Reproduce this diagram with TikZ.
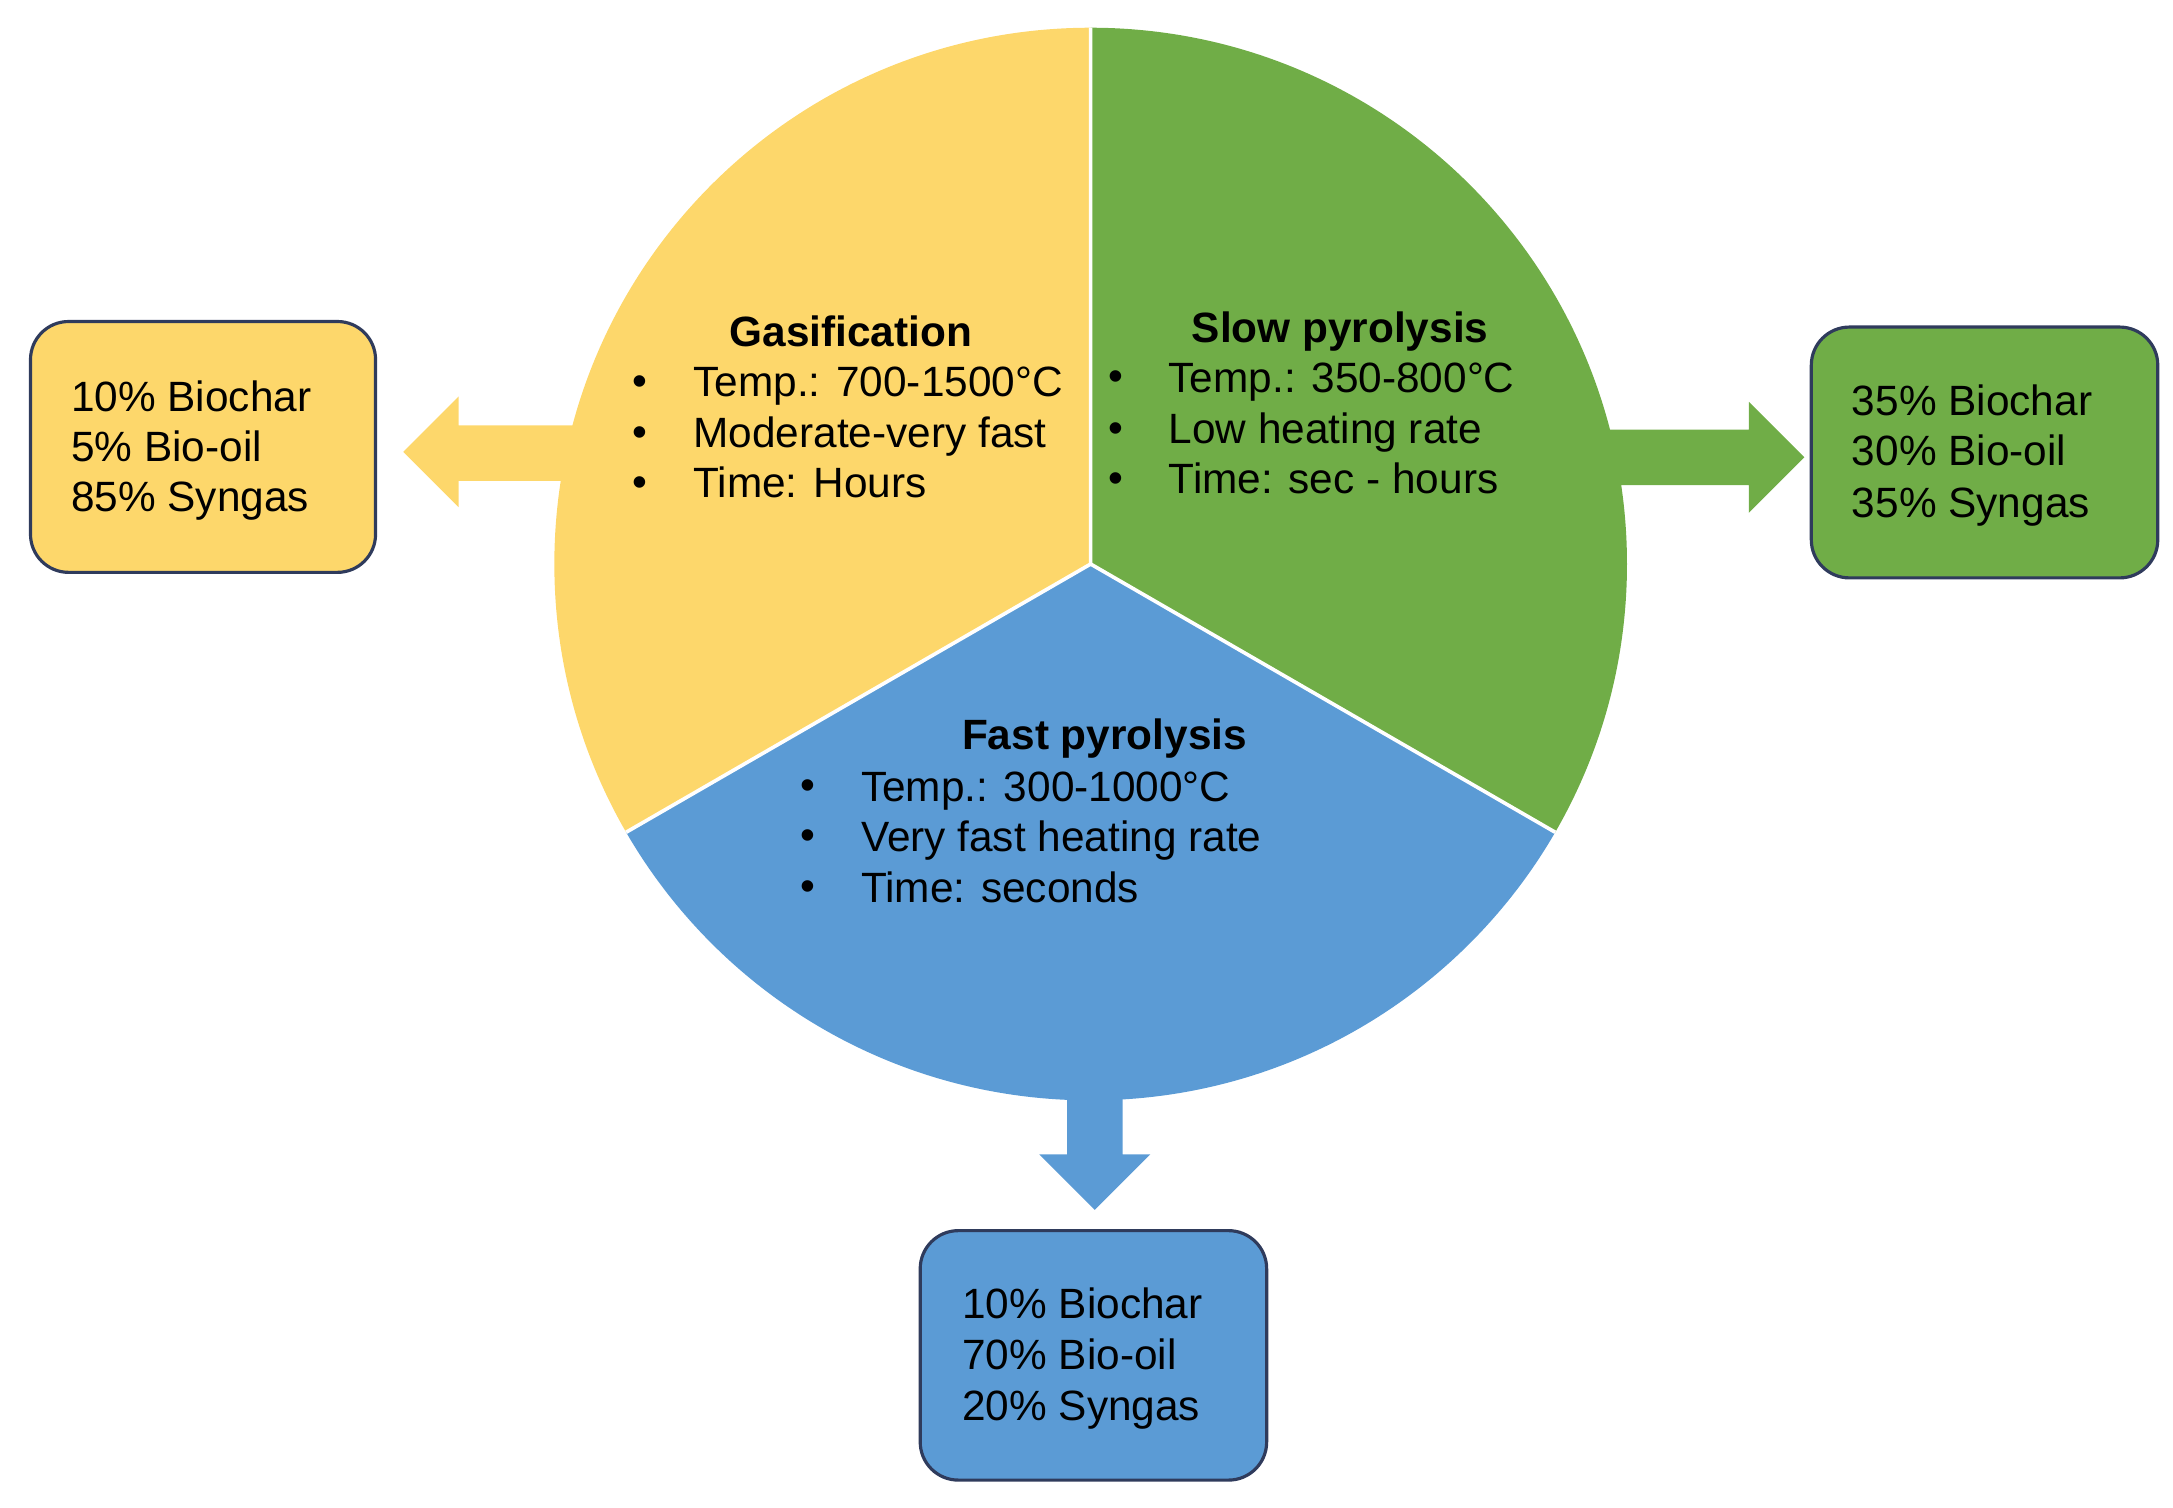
\documentclass[tikz,border=0pt]{standalone}
\usepackage{fontspec}
\setmainfont{Liberation Sans}
\definecolor{cyel}{HTML}{FDD76B}
\definecolor{cgrn}{HTML}{70AD47}
\definecolor{cblu}{HTML}{5B9BD5}
\definecolor{cedge}{HTML}{2F3B5C}
\begin{document}
\begin{tikzpicture}[x=0.02cm,y=-0.02cm,
  txt/.style={anchor=west,inner sep=0pt,font=\fontsize{17.4}{21}\selectfont,text height=12.5pt,text depth=3.3pt},
  ttl/.style={inner sep=0pt,font=\fontsize{17.4}{21}\selectfont\bfseries,text height=12.5pt,text depth=3.3pt},
  bul/.style={inner sep=0pt,font=\fontsize{17.4}{21}\selectfont},
  box/.style={draw=cedge,line width=1.3pt,rounded corners=0.55cm}]
\useasboundingbox (0,0) rectangle (1568,1088);
% arrows (behind circle)
\fill[cyel] (415,307) -- (331,307) -- (331,286) -- (291,326) -- (331,366) -- (331,347) -- (415,347) -- cycle;
\fill[cgrn] (1160,310) -- (1262,310) -- (1262,290) -- (1302,330) -- (1262,370) -- (1262,350) -- (1160,350) -- cycle;
\fill[cblu] (770,780) -- (770,833) -- (750,833) -- (790,873) -- (830,833) -- (810,833) -- (810,780) -- cycle;
% circle sectors
\coordinate (c) at (787,407);
\begin{scope}
\clip (c) circle[radius=387];
\fill[cyel] (c) -- (787,0) -- (380,0) -- (380,642) -- cycle;
\fill[cgrn] (c) -- (787,0) -- (1194,0) -- (1194,642) -- cycle;
\fill[cblu] (c) -- (380,642) -- (380,810) -- (1194,810) -- (1194,642) -- cycle;
\draw[white,line width=1.5pt] (c) -- (787,0) (c) -- (1194,642) (c) -- (380,642);
\end{scope}
% boxes
\draw[box,fill=cyel] (22,232) rectangle (271,413);
\draw[box,fill=cgrn] (1307,236) rectangle (1557,417);
\draw[box,fill=cblu] (664,888) rectangle (914,1068);
% gasification
\node[ttl] (gt) at (614,242) {Gasification};
\foreach \y/\t in {278/{Temp.: 700-1500°C},315/{Moderate-very fast},351/{Time: Hours}}{
  \node[bul] at (462,\y) {•}; \node[txt] at (500,\y) {\t};}
% slow
\node[ttl] (st) at (967,239) {Slow pyrolysis};
\foreach \y/\t in {275/{Temp.: 350-800°C},312/{Low heating rate},348/{Time: sec - hours}}{
  \node[bul] at (805,\y) {•}; \node[txt] at (843,\y) {\t};}
% fast
\node[ttl] (ft) at (797,533) {Fast pyrolysis};
\foreach \y/\t in {570/{Temp.: 300-1000°C},606/{Very fast heating rate},643/{Time: seconds}}{
  \node[bul] at (583,\y) {•}; \node[txt] at (621,\y) {\t};}
% box texts
\foreach \y/\t in {289/{10\% Biochar},325/{5\% Bio-oil},361/{85\% Syngas}} \node[txt] at (51,\y) {\t};
\foreach \y/\t in {292/{35\% Biochar},328/{30\% Bio-oil},365/{35\% Syngas}} \node[txt] at (1336,\y) {\t};
\foreach \y/\t in {943/{10\% Biochar},980/{70\% Bio-oil},1017/{20\% Syngas}} \node[txt] at (694,\y) {\t};
\end{tikzpicture}
\end{document}
